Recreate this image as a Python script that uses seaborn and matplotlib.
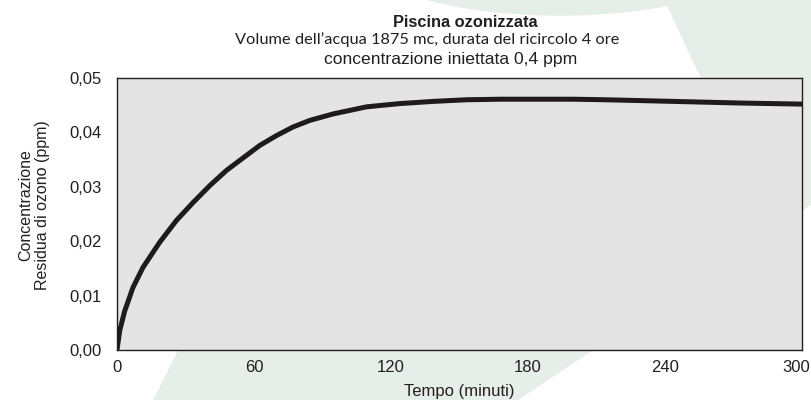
import matplotlib
matplotlib.use("Agg")
import matplotlib.pyplot as plt
import matplotlib.patches as mpatches
import matplotlib.transforms as mtransforms
import seaborn as sns
import pandas as pd

# curve
minutes = [0, 1.2, 3.4, 7, 11.4, 18.7, 26, 33.3, 40.6, 47.9, 55.2, 62.5, 69.8,
           77.1, 84.4, 94.7, 109.3, 123.9, 138.5, 153.1, 167.8, 185, 200, 214,
           243.6, 272.9, 300]
ozone = [0, 0.0036, 0.0072, 0.0115, 0.0152, 0.0198, 0.0238, 0.0271, 0.0302,
         0.0330, 0.0353, 0.0376, 0.0394, 0.0410, 0.0422, 0.0434, 0.0447, 0.0453,
         0.0457, 0.0460, 0.0461, 0.0461, 0.0461, 0.0460, 0.0457, 0.0454, 0.0452]

x_ticks = [0, 60, 120, 180, 240, 300]
y_ticks = [0, 0.01, 0.02, 0.03, 0.04, 0.05]
y_tick_labels = ["0,00", "0,01", "0,02", "0,03", "0,04", "0,05"]

title = "Piscina ozonizzata"
subtitle1 = "Volume dell\u2019acqua 1875 mc, durata del ricircolo 4 ore"
subtitle2 = "concentrazione iniettata 0,4 ppm"

df = pd.DataFrame({"t": minutes, "c": ozone})

sns.set_style("white")
plt.rcParams["font.family"] = ["Liberation Sans", "DejaVu Sans"]

W, H = 811, 400
fig = plt.figure(figsize=(W / 100, H / 100), dpi=100)

# faint green decoration in the background
deco = "#e6eee9"
def px(x, y):
    return (x / W, 1 - y / H)

bg = [
    mpatches.Ellipse(px(560, -40), 380 / W, 110 / H),
    mpatches.Polygon([px(665, 0), px(811, 0), px(811, 204), px(700, 75)]),
    mpatches.Polygon([px(154, 400), px(179, 350), px(320, 80), px(811, 80),
                      px(811, 204), px(517, 400)]),
]
for p in bg:
    p.set_transform(fig.transFigure)
    p.set_color(deco)
    p.set_zorder(-5)
    fig.patches.append(p)

ax = fig.add_axes([117 / W, 50 / H, (802 - 117) / W, (350 - 78) / H])
ax.set_zorder(2)
ax.set_facecolor("#e3e4e3")

sns.lineplot(data=df, x="t", y="c", ax=ax, color="#1f1b1c", linewidth=3.6)

ax.set_xlim(0, 300)
ax.set_ylim(0, 0.05)
ax.set_xticks(x_ticks)
ax.set_yticks(y_ticks)
ax.set_yticklabels(y_tick_labels)
ax.tick_params(length=0, labelsize=12, colors="#231f20")
ax.tick_params(axis="y", pad=11)
ax.tick_params(axis="x", pad=7)
for s in ax.spines.values():
    s.set_color("#231f20")
    s.set_linewidth(1.0)

# last x label sits a bit left so it is not cut at the edge
last = ax.get_xticklabels()[-1]
last.set_horizontalalignment("right")
last.set_transform(last.get_transform() +
                   mtransforms.ScaledTranslation(8 / 100, 0, fig.dpi_scale_trans))

ax.set_xlabel("Tempo (minuti)", fontsize=12, color="#231f20", labelpad=6.5)
ax.set_ylabel("Concentrazione\nResidua di ozono (ppm)", fontsize=11.5,
              color="#231f20", linespacing=1.15)
ax.yaxis.set_label_coords(-0.098, 0.533)

fig.text(465 / W, 1 - 27 / H, title, ha="center", va="baseline",
         fontsize=11.8, fontweight="bold", color="#231f20")
fig.text(427 / W, 1 - 44 / H, subtitle1, ha="center", va="baseline",
         fontsize=11.8, color="#231f20", family=["Lato", "DejaVu Sans"])
fig.text(451 / W, 1 - 64 / H, subtitle2, ha="center", va="baseline",
         fontsize=12.6, color="#231f20")

fig.savefig("out.png", dpi=100)
